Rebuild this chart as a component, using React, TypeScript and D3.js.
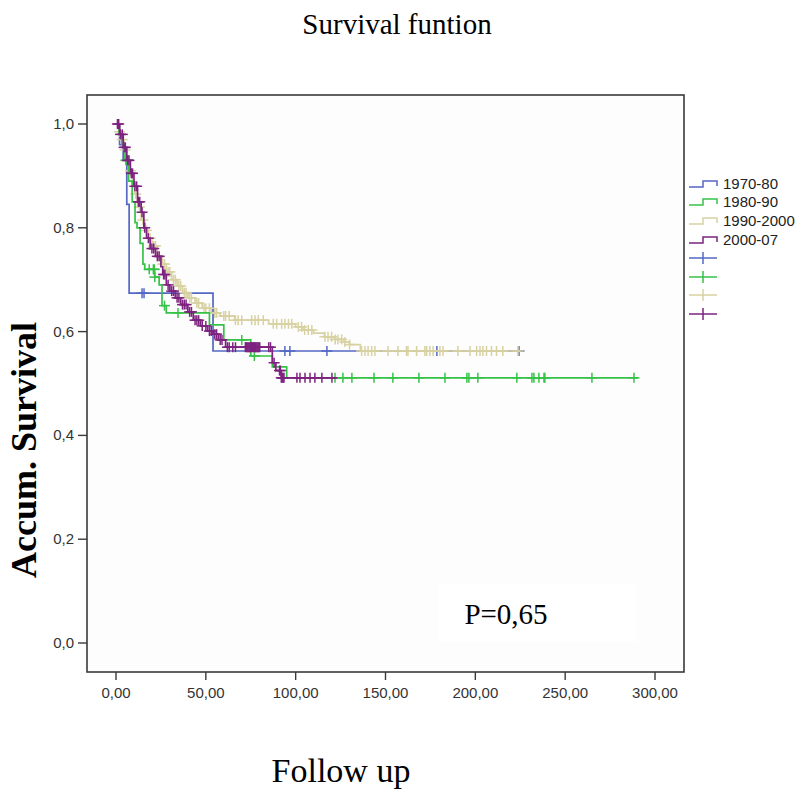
import React from "react";
import * as d3 from "d3";

const xTicks = [0, 50, 100, 150, 200, 250, 300];
const yTicks = [0, 0.2, 0.4, 0.6, 0.8, 1.0];
const groupNames = ["1970-80", "1980-90", "1990-2000", "2000-07"];
const groupColors = ["#5468c4", "#36c247", "#d8d1a2", "#7d237f"];

// 1970-80
const blueTimes = [0, 2, 4, 6, 7.3, 54];
const blueSurv = [1, 0.96, 0.93, 0.845, 0.674, 0.5626];
const blueEnd = 226.5;
const blueCens = [14.5, 15.6, 94, 96.8, 117.4, 178.6, 224.3];

// 1980-90
const greenTimes = [0, 1.7, 3.3, 5, 7, 9, 10.6, 11.7, 13.4, 15, 16, 21.5, 24, 25.6, 28, 52, 60, 75, 87, 95];
const greenSurv = [1, 0.98, 0.96, 0.93, 0.89, 0.85, 0.81, 0.8, 0.77, 0.73, 0.72, 0.705, 0.69, 0.65, 0.636, 0.613, 0.584, 0.553, 0.532, 0.511];
const greenEnd = 290.5;
const greenCens = [5.5, 6.2, 6.5, 18.5, 20.8, 21.3, 21.6, 27, 34.5, 70, 77, 121.9, 126.3, 131.3, 143.6, 154.1, 168.6, 183.1, 195.3, 196.4, 201.4, 223.1, 231.5, 232.6, 235.4, 238.2, 238.7, 264.9, 288.3];

// 1990-2000
const tanTimes = [0, 1.5, 3, 4.5, 6, 7.5, 9, 10.5, 12, 14, 16, 18, 20, 23, 25.5, 28, 31, 34, 37, 40, 44, 48, 53, 58, 66, 85, 100, 104, 110, 116, 122, 127, 130, 136];
const tanSurv = [1, 0.985, 0.97, 0.95, 0.93, 0.91, 0.885, 0.865, 0.84, 0.815, 0.795, 0.78, 0.765, 0.745, 0.73, 0.715, 0.7, 0.688, 0.675, 0.665, 0.655, 0.645, 0.636, 0.63, 0.622, 0.615, 0.609, 0.603, 0.597, 0.59, 0.585, 0.58, 0.575, 0.5626];
const tanEnd = 225;
const tanCens = [2, 3.5, 5, 7, 8, 11, 13, 15, 17, 19, 21, 22, 24, 26, 27, 29, 30, 32, 33, 35, 36, 38, 39, 41, 42, 45, 46, 49, 50, 52, 55, 56, 60, 61, 63, 66.5, 68, 70, 75.5, 77.4, 79.2, 82, 87.5, 89.4, 92.2, 94, 96, 97.8, 101.5, 103.3, 105, 107, 109, 116.3, 118, 120, 122, 123.5, 125.6, 127.4, 130, 136.7, 138.6, 140.3, 142.3, 144.1, 151.4, 156.9, 161.7, 162.5, 167.3, 171.9, 172.9, 174.7, 176.5, 180.3, 182, 190.3, 197, 200.7, 202.6, 204.2, 206.2, 209, 211.8, 215.3, 223.7];

// 2000-07
const purpleTimes = [0, 2, 4, 6, 8, 10, 12, 14, 15.5, 17, 19, 22, 25, 26, 28, 30, 33, 36, 40, 43, 47, 51, 54, 57, 61, 87, 89, 92];
const purpleSurv = [1, 0.98, 0.955, 0.93, 0.905, 0.88, 0.85, 0.83, 0.8, 0.78, 0.76, 0.745, 0.725, 0.71, 0.69, 0.678, 0.665, 0.652, 0.638, 0.622, 0.611, 0.601, 0.595, 0.584, 0.57, 0.54, 0.525, 0.511];
const purpleEnd = 123;
const purpleCens = [0.8, 1.5, 2.5, 3.5, 4.5, 5.2, 6.5, 7.2, 8.5, 9.2, 10.5, 11.5, 12.5, 13.2, 14.5, 16, 18, 20, 21, 23, 24, 26.5, 27.2, 29, 31, 32, 34, 35, 37, 38, 39, 41, 42, 44, 45, 46, 48, 50, 52, 53, 55, 56, 58, 59, 62, 63, 65, 66.5, 72, 72.5, 73, 73.5, 74, 74.5, 75, 75.5, 76, 76.5, 77, 77.5, 78, 78.5, 79, 79.5, 80, 85, 86, 88, 91, 91.5, 92, 92.5, 93, 93.5, 100.7, 102.4, 105.2, 108, 110.7, 114.6, 120.2];

const groups = [
  { times: blueTimes, surv: blueSurv, end: blueEnd, cens: blueCens },
  { times: greenTimes, surv: greenSurv, end: greenEnd, cens: greenCens },
  { times: tanTimes, surv: tanSurv, end: tanEnd, cens: tanCens },
  { times: purpleTimes, surv: purpleSurv, end: purpleEnd, cens: purpleCens },
];
// blue, tan, green, purple (purple on top)
const drawOrder = [0, 2, 1, 3];

const W = 797;
const H = 789;
const frame = { left: 87, top: 95, right: 684, bottom: 672 };

export default function App() {
  const x = d3.scaleLinear().domain([0, 300]).range([116, 655]);
  const y = d3.scaleLinear().domain([0, 1]).range([643, 124]);

  const line = d3
    .line<[number, number]>()
    .x((d) => x(d[0]))
    .y((d) => y(d[1]))
    .curve(d3.curveStepAfter);

  const survAt = (g: any, t: number) => {
    let s = g.surv[0];
    for (let i = 0; i < g.times.length; i++) if (g.times[i] <= t) s = g.surv[i];
    return s;
  };

  const legendY = [184, 202, 221, 240];
  const legendCensY = [258, 277, 295, 314];

  return (
    <svg width={W} height={H} style={{ display: "block", position: "absolute", left: 0, top: 0 }}>
      <rect x={0} y={0} width={W} height={H} fill="#ffffff" />
      <text x={397} y={34} textAnchor="middle" fontFamily="Liberation Serif, Times New Roman, serif" fontSize={29} fill="#000">
        Survival funtion
      </text>
      <rect x={frame.left} y={frame.top} width={frame.right - frame.left} height={frame.bottom - frame.top} fill="#fdfdfd" stroke="none" />
      <rect x={438} y={584} width={198} height={58} fill="#ffffff" />
      {drawOrder.map((gi) => {
        const g = groups[gi];
        const pts: [number, number][] = g.times.map((t: number, i: number) => [t, g.surv[i]] as [number, number]);
        pts.push([g.end, g.surv[g.surv.length - 1]]);
        const c = groupColors[gi];
        return (
          <g key={gi}>
            <path d={line(pts) || ""} fill="none" stroke={c} strokeWidth={1.7} />
            {g.cens.map((t: number, j: number) => {
              const cx = x(t);
              const cy = y(survAt(g, t));
              return (
                <g key={j} stroke={c} strokeWidth={1.5}>
                  <line x1={cx - 5.5} x2={cx + 5.5} y1={cy} y2={cy} />
                  <line x1={cx} x2={cx} y1={cy - 5} y2={cy + 5} />
                </g>
              );
            })}
          </g>
        );
      })}
      <rect x={frame.left} y={frame.top} width={frame.right - frame.left} height={frame.bottom - frame.top} fill="none" stroke="#3a3a3a" strokeWidth={1.6} />
      {xTicks.map((t) => (
        <g key={t}>
          <line x1={x(t)} x2={x(t)} y1={frame.bottom} y2={frame.bottom + 8} stroke="#3a3a3a" strokeWidth={1.4} />
          <text x={x(t)} y={698} textAnchor="middle" fontFamily="Liberation Sans, Arial, sans-serif" fontSize={15} fill="#333">
            {t.toFixed(2).replace(".", ",")}
          </text>
        </g>
      ))}
      {yTicks.map((t) => (
        <g key={t}>
          <line x1={frame.left - 9} x2={frame.left} y1={y(t)} y2={y(t)} stroke="#3a3a3a" strokeWidth={1.4} />
          <text x={74} y={y(t) + 5} textAnchor="end" fontFamily="Liberation Sans, Arial, sans-serif" fontSize={15} fill="#333">
            {t.toFixed(1).replace(".", ",")}
          </text>
        </g>
      ))}
      <text
        transform={`translate(36, 450) rotate(-90)`}
        textAnchor="middle"
        fontFamily="Liberation Serif, Times New Roman, serif"
        fontWeight="bold"
        fontSize={36}
        fill="#000"
      >
        Accum. Survival
      </text>
      <text x={341} y={782} textAnchor="middle" fontFamily="Liberation Serif, Times New Roman, serif" fontSize={34} fill="#000">
        Follow up
      </text>
      <text x={506} y={624} textAnchor="middle" fontFamily="Liberation Serif, Times New Roman, serif" fontSize={29} fill="#000">
        P=0,65
      </text>
      {groupNames.map((n, i) => (
        <g key={n}>
          <path
            d={`M689,${legendY[i] + 3}H703V${legendY[i] - 3}H717V${legendY[i] + 2}`}
            fill="none"
            stroke={groupColors[i]}
            strokeWidth={1.5}
          />
          <text x={723} y={legendY[i] + 5} fontFamily="Liberation Sans, Arial, sans-serif" fontSize={15} fill="#222">
            {n}
          </text>
          <line x1={689} x2={717} y1={legendCensY[i]} y2={legendCensY[i]} stroke={groupColors[i]} strokeWidth={1.5} />
          <line x1={703} x2={703} y1={legendCensY[i] - 6} y2={legendCensY[i] + 6} stroke={groupColors[i]} strokeWidth={1.5} />
        </g>
      ))}
    </svg>
  );
}
